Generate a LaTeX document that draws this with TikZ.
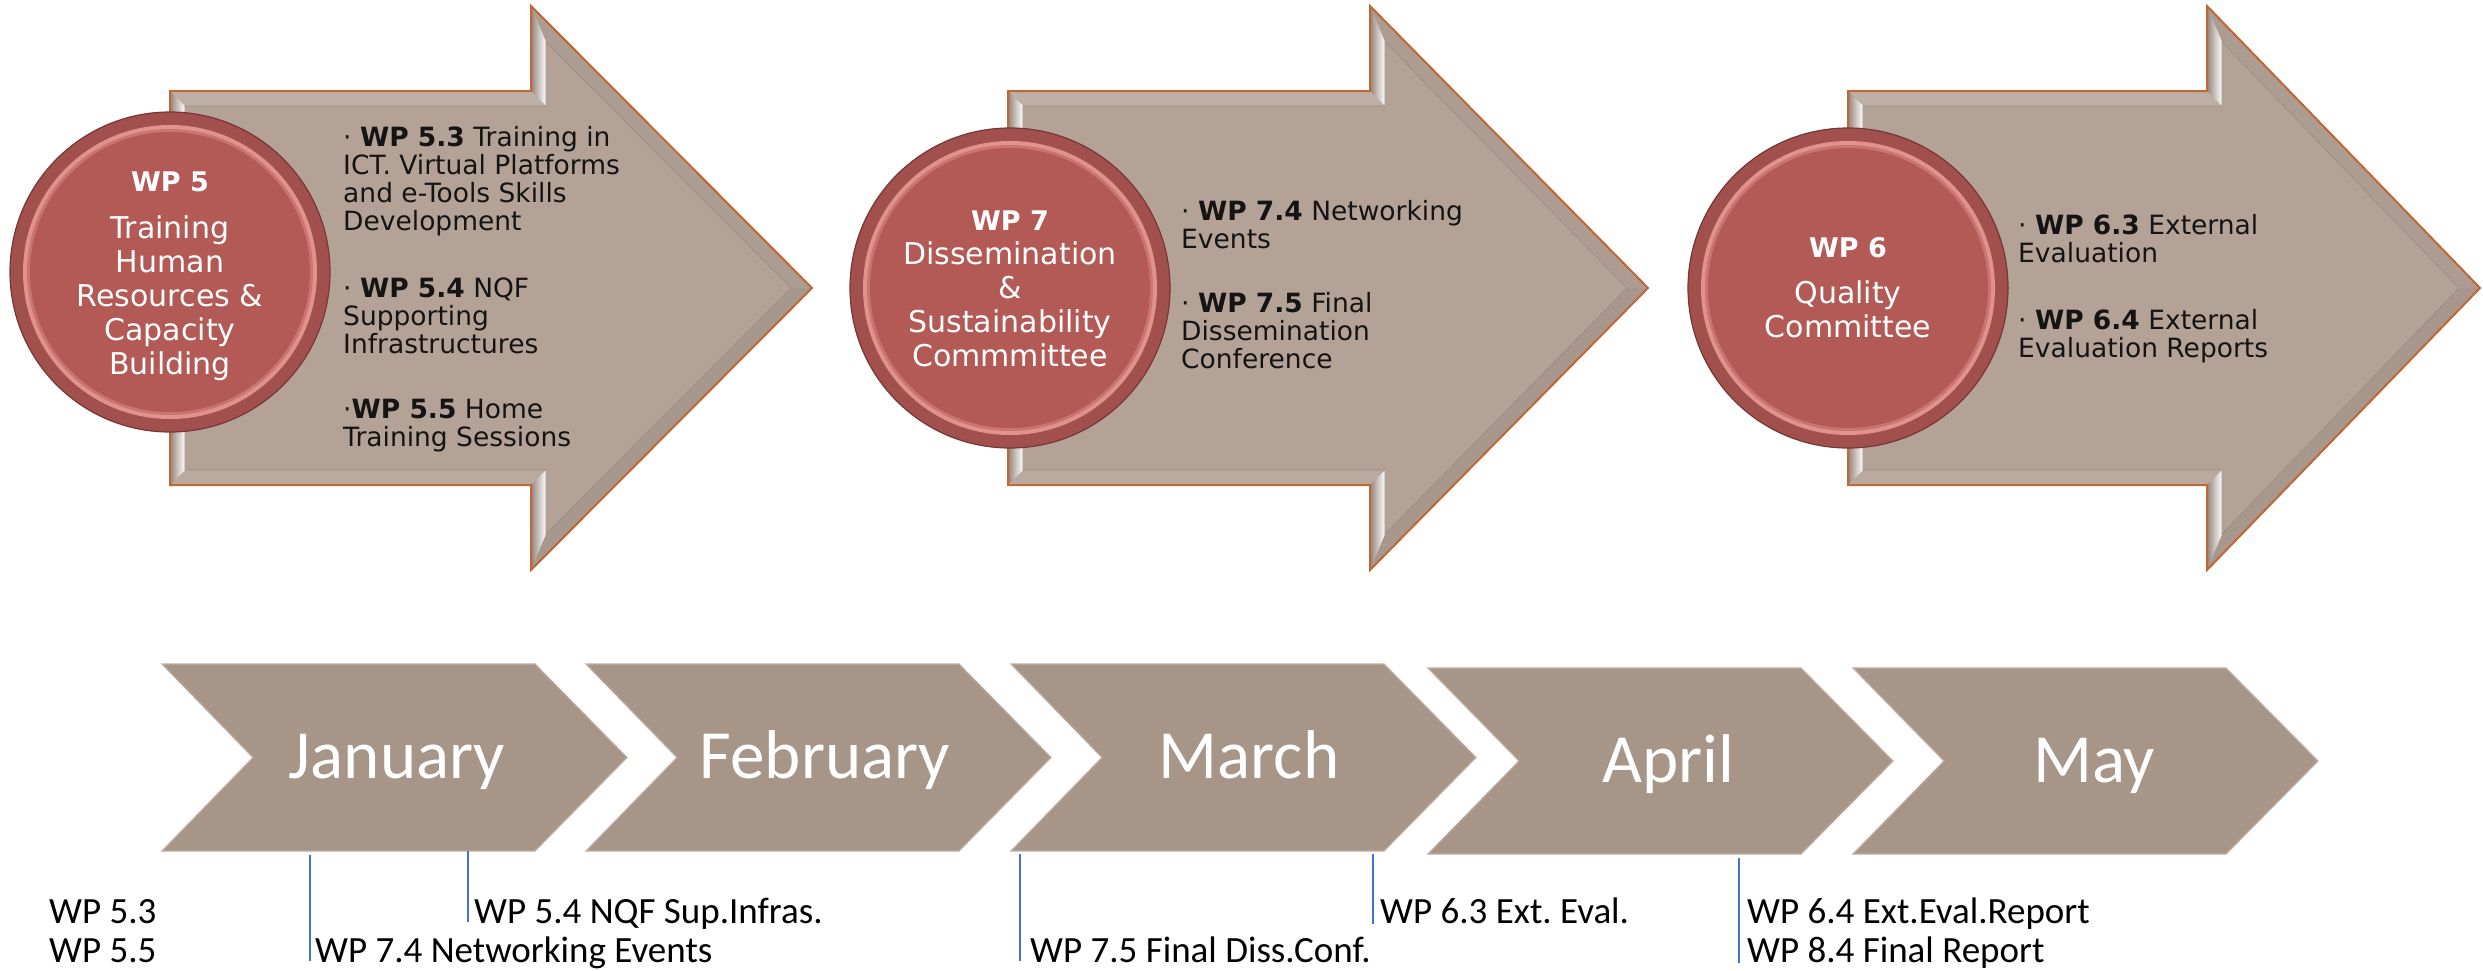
\documentclass[tikz,border=0pt]{standalone}
\usepackage{fontspec}
\setmainfont{DejaVu Sans}
\newfontfamily\calib{Carlito}
\frenchspacing
\definecolor{arrowfill}{RGB}{180,162,151}
\definecolor{arrowedge}{RGB}{192,104,52}
\definecolor{chev}{RGB}{167,149,135}
\definecolor{circfill}{RGB}{179,89,86}
\definecolor{circedge}{RGB}{120,55,52}
\definecolor{circring}{RGB}{236,160,154}
\definecolor{tickblue}{RGB}{68,114,196}
\tikzset{
  circtext/.style={text=white, align=center, inner sep=0pt, anchor=north, font=\fontsize{30}{34}\selectfont},
  bultext/.style={text=black!92, align=left, inner sep=0pt, anchor=north west, font=\fontsize{26.5}{28}\selectfont},
  month/.style={text=white, inner sep=0pt, anchor=base, font=\calib\fontsize{69}{72}\selectfont},
  lbl/.style={text=black, inner sep=0pt, anchor=base west, font=\calib\fontsize{37}{40}\selectfont},
  tickline/.style={tickblue, line width=1.4pt},
  chevron/.style={fill=chev, draw=chev!75!white, line width=1.2pt, line join=miter},
  wpdisc/.style={circle, fill=circfill!90!black, draw=circedge, line width=1.2pt, minimum size=320pt, inner sep=0pt}
}
\newcommand\bigarrow[3]{%
  \fill[arrowfill] (#1,91) -- (#2,91) -- (#2,6) -- (#3,288) -- (#2,570) -- (#2,485) -- (#1,485) -- cycle;
  \fill[arrowfill!85!white] (#1,91) -- (#2,91) -- ({#2+15},106) -- ({#1+15},106) -- cycle;
  \fill[arrowfill!92!white] (#1,485) -- (#2,485) -- ({#2+15},470) -- ({#1+15},470) -- cycle;
  \fill[arrowfill!96!black] (#2,6) -- (#3,288) -- ({#3-21},288) -- ({#2+15},42) -- cycle;
  \fill[arrowfill!93!black] (#3,288) -- (#2,570) -- ({#2+15},534) -- ({#3-21},288) -- cycle;
  \shade[left color=arrowfill!82!black, right color=white] (#2,6) -- (#2,91) -- ({#2+15},106) -- ({#2+15},42) -- cycle;
  \shade[left color=arrowfill!82!black, right color=white] (#2,485) -- (#2,570) -- ({#2+15},534) -- ({#2+15},470) -- cycle;
  \shade[left color=arrowfill!82!black, right color=white] (#1,91) -- (#1,485) -- ({#1+15},470) -- ({#1+15},106) -- cycle;
  \draw[arrowfill!86!black, line width=0.6pt] ({#1+15},106) -- ({#2+15},106) -- ({#2+15},42) -- ({#3-21},288) -- ({#2+15},534) -- ({#2+15},470) -- ({#1+15},470) -- cycle;
  \draw[arrowedge, line width=2pt, line join=miter] (#1,91) -- (#2,91) -- (#2,6) -- (#3,288) -- (#2,570) -- (#2,485) -- (#1,485) -- cycle;
}
\newcommand\mychev[3]{%
  \filldraw[chevron] (#1,#2) -- ({#1+373},#2) -- ({#1+465},{(#2+#3)/2}) -- ({#1+373},#3) -- (#1,#3) -- ({#1+91},{(#2+#3)/2}) -- cycle;
}
\newcommand\wpcircle[3]{%
  \node[wpdisc] (#1) at (#2,#3) {};
  \fill[circring!80!circfill] (#1.center) circle (147pt);
  \fill[circring!40!circfill] (#1.center) circle (143pt);
  \fill[circfill] (#1.center) circle (140pt);
}
\begin{document}
\begin{tikzpicture}[x=1pt,y=-1pt]
\useasboundingbox[fill=white] (0,0) rectangle (2483,970);

% big arrows
\bigarrow{170}{531}{812}
\bigarrow{1008}{1370}{1648}
\bigarrow{1848}{2207}{2480}

% circles
\wpcircle{c1}{170}{272}
\wpcircle{c2}{1010}{288}
\wpcircle{c3}{1848}{288}

\node[circtext] (c1t) at (170,167) {\rule{0pt}{24pt}{\fontsize{27}{34}\selectfont\bfseries WP 5}\\[13pt]Training\\Human\\Resources \&\\Capacity\\Building};
\node[circtext] (c2t) at (1010,206) {\rule{0pt}{24pt}{\fontsize{27}{34}\selectfont\bfseries WP 7}\\Dissemination\\\&\\Sustainability\\Commmittee};
\node[circtext] (c3t) at (1848,233) {\rule{0pt}{24pt}{\fontsize{27}{34}\selectfont\bfseries WP 6}\\[12pt]Quality\\Committee};

% bullet texts
\node[bultext] (a1p1) at (343,126) {\rule{0pt}{20pt}·~\textbf{WP 5.3} Training in\\ICT. Virtual Platforms\\and e-Tools Skills\\Development};
\node[bultext] (a1p2) at (343,277) {\rule{0pt}{20pt}·~\textbf{WP 5.4} NQF\\Supporting\\Infrastructures};
\node[bultext] (a1p3) at (343,398) {\rule{0pt}{20pt}·\textbf{WP 5.5} Home\\Training Sessions};
\node[bultext] (a2p1) at (1181,200) {\rule{0pt}{20pt}·~\textbf{WP 7.4} Networking\\Events};
\node[bultext] (a2p2) at (1181,292) {\rule{0pt}{20pt}·~\textbf{WP 7.5} Final\\Dissemination\\Conference};
\node[bultext] (a3p1) at (2018,214) {\rule{0pt}{20pt}·~\textbf{WP 6.3} External\\Evaluation};
\node[bultext] (a3p2) at (2018,309) {\rule{0pt}{20pt}·~\textbf{WP 6.4} External\\Evaluation Reports};

% chevrons
\mychev{162}{664}{851}
\mychev{586}{664}{851}
\mychev{1011}{664}{851}
\mychev{1428}{668}{854}
\mychev{1853}{668}{854}

\node[month] (jan) at (397,778) {January};
\node[month] (feb) at (825,778) {February};
\node[month] (mar) at (1249,778) {March};
\node[month] (apr) at (1668,782) {April};
\node[month] (may) at (2094,782) {May};

% tick lines
\coordinate (k1a) at (310,855); \coordinate (k1b) at (310,961);
\coordinate (k2a) at (468,851); \coordinate (k2b) at (468,922);
\coordinate (k3a) at (1020,854); \coordinate (k3b) at (1020,961);
\coordinate (k4a) at (1373,854); \coordinate (k4b) at (1373,924);
\coordinate (k5a) at (1739,858); \coordinate (k5b) at (1739,963);
\draw[tickline] (k1a) -- (k1b);
\draw[tickline] (k2a) -- (k2b);
\draw[tickline] (k3a) -- (k3b);
\draw[tickline] (k4a) -- (k4b);
\draw[tickline] (k5a) -- (k5b);

% bottom labels
\node[lbl] (l1) at (49,923) {WP 5.3};
\node[lbl] (l2) at (49,962) {WP 5.5};
\node[lbl] (l3) at (474,923) {WP 5.4 NQF Sup.Infras.};
\node[lbl] (l4) at (315,962) {WP 7.4 Networking Events};
\node[lbl] (l5) at (1030,962) {WP 7.5 Final Diss.Conf.};
\node[lbl] (l6) at (1380,923) {WP 6.3 Ext. Eval.};
\node[lbl] (l7) at (1747,923) {WP 6.4 Ext.Eval.Report};
\node[lbl] (l8) at (1747,962) {WP 8.4 Final Report};
\end{tikzpicture}
\end{document}
